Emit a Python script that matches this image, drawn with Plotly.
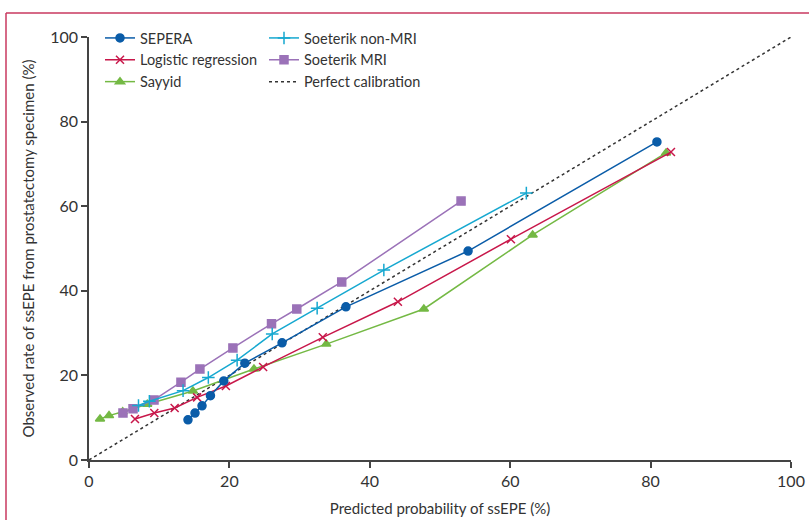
import plotly.graph_objects as go

# ---- data ----
sepera_x = [14.1, 15.1, 16.1, 17.3, 19.2, 22.2, 27.5, 36.6, 54.0, 80.9]
sepera_y = [9.5, 11.1, 12.8, 15.2, 18.7, 22.9, 27.7, 36.2, 49.4, 75.2]

logreg_x = [6.55, 9.3, 12.2, 15.4, 19.5, 24.8, 33.3, 44.0, 60.1, 82.9]
logreg_y = [9.7, 11.1, 12.3, 14.8, 17.5, 22.0, 29.0, 37.4, 52.2, 72.8]

sayyid_x = [1.57, 2.85, 4.8, 8.3, 14.8, 23.5, 33.8, 47.7, 63.2, 82.2]
sayyid_y = [9.7, 10.5, 11.4, 13.2, 16.3, 21.5, 27.4, 35.7, 53.2, 72.6]

soet_non_x = [7.05, 8.6, 13.4, 17.0, 21.1, 26.1, 32.5, 42.0, 62.3]
soet_non_y = [12.9, 13.9, 16.4, 19.5, 23.6, 29.8, 35.9, 44.9, 63.1]

soet_mri_x = [4.84, 6.27, 9.26, 13.1, 15.8, 20.5, 26.0, 29.6, 36.0, 53.0]
soet_mri_y = [11.1, 12.1, 14.2, 18.4, 21.5, 26.5, 32.2, 35.7, 42.1, 61.2]

perfect_x = [0, 100]
perfect_y = [0, 100]

ticks = [0, 20, 40, 60, 80, 100]

FONT = "Lato"
TXT = "#333333"

fig = go.Figure()

def add(x, y, name, color, symbol, size, legend, lw=1.5):
    fig.add_trace(go.Scatter(
        x=x, y=y, name=name, mode="lines+markers",
        line=dict(color=color, width=lw),
        marker=dict(symbol=symbol, size=size, color=color,
                    line=dict(color=color, width=1.5)),
        legend=legend, cliponaxis=False))

fig.add_trace(go.Scatter(x=perfect_x, y=perfect_y, name="Perfect calibration",
                         mode="lines", line=dict(color="#333333", width=1.5, dash="3px,3px"),
                         legend="legend2"))
add(sayyid_x, sayyid_y, "Sayyid", "#74b944", "triangle-up", 8, "legend")
add(logreg_x, logreg_y, "Logistic regression", "#c8174a", "x-thin", 8, "legend")
add(soet_mri_x, soet_mri_y, "Soeterik MRI", "#9b72b8", "square", 8, "legend2")
add(soet_non_x, soet_non_y, "Soeterik non-MRI", "#16a8d0", "cross-thin", 9, "legend2")
add(sepera_x, sepera_y, "SEPERA", "#0a5ca8", "circle", 8, "legend")

axis_common = dict(range=[0, 100], tickvals=ticks, showgrid=False, zeroline=False,
                   showline=True, linecolor="#444444", linewidth=1.5, automargin=False,
                   ticks="outside", ticklen=6, tickwidth=1.5, tickcolor="#444444",
                   tickfont=dict(family=FONT, size=16, color=TXT))

fig.update_layout(
    width=809, height=520,
    margin=dict(l=89, r=18, t=37, b=60, autoexpand=False),
    paper_bgcolor="white", plot_bgcolor="white",
    font=dict(family=FONT, size=15, color=TXT),
    xaxis=dict(**axis_common,
               title=dict(text="Predicted probability of ssEPE (%)",
                          font=dict(family=FONT, size=15, color=TXT), standoff=15)),
    yaxis=dict(**axis_common,
               title=dict(text="Observed rate of ssEPE from prostatectomy specimen (%)",
                          font=dict(family=FONT, size=15, color=TXT), standoff=12)),
    legend=dict(x=(100 - 89) / 702, y=(460 - 22) / 423, xanchor="left", yanchor="top",
                bgcolor="rgba(0,0,0,0)", font=dict(family=FONT, size=14.5, color=TXT),
                traceorder="reversed", tracegroupgap=0, itemwidth=30),
    legend2=dict(x=(264 - 89) / 702, y=(460 - 22) / 423, xanchor="left", yanchor="top",
                 bgcolor="rgba(0,0,0,0)", font=dict(family=FONT, size=14.5, color=TXT),
                 traceorder="reversed", tracegroupgap=0, itemwidth=30),
    shapes=[
        dict(type="line", xref="paper", yref="paper",
             x0=(6 - 89) / 702, x1=(809 - 89) / 702,
             y0=(460 - 13) / 423, y1=(460 - 13) / 423,
             line=dict(color="#c8385f", width=1.5)),
        dict(type="line", xref="paper", yref="paper",
             x0=(6 - 89) / 702, x1=(6 - 89) / 702,
             y0=(460 - 13) / 423, y1=(460 - 520) / 423,
             line=dict(color="#c8385f", width=1.5)),
    ],
)

fig.write_html("out.html")
